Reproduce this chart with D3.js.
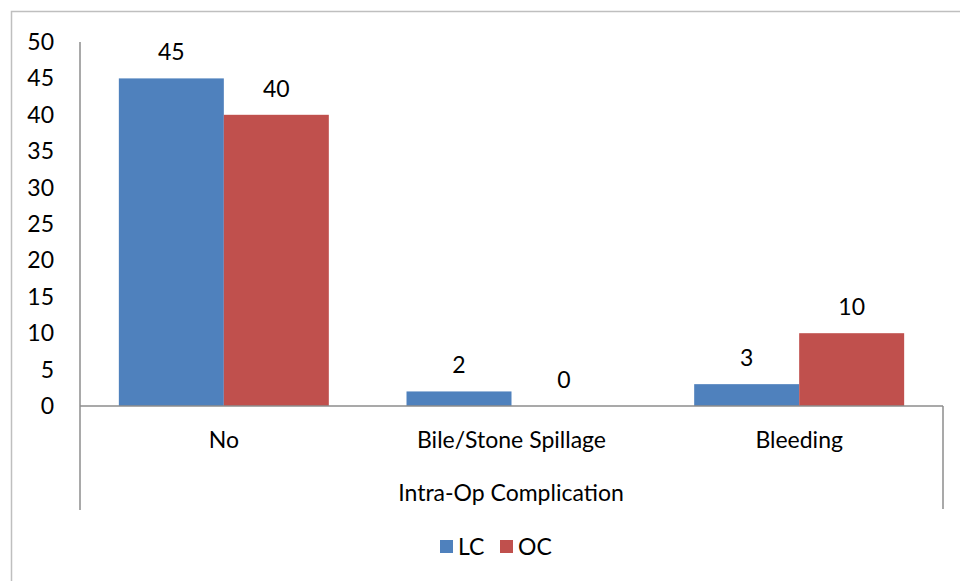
<!DOCTYPE html>
<html><head><meta charset="utf-8">
<script src="https://cdn.jsdelivr.net/npm/d3@7"></script>
<style>body{margin:0;background:#fff}svg{display:block}text{font-family:Lato,"Open Sans",sans-serif;fill:#000}</style>
</head><body><svg id="c" width="960" height="581"></svg>
<script>
const categories = ["No", "Bile/Stone Spillage", "Bleeding"];
const seriesNames = ["LC", "OC"];
const lcValues = [45, 2, 3];
const ocValues = [40, 0, 10];
const yTicks = [0, 5, 10, 15, 20, 25, 30, 35, 40, 45, 50];
const colors = ["#4F81BD", "#C0504D"];
const axisTitle = "Intra-Op Complication";
const FS = 23;

const svg = d3.select("#c");
svg.append("rect").attr("x", 11.5).attr("y", 11.5).attr("width", 1000).attr("height", 1000)
  .attr("fill", "none").attr("stroke", "#bfbfbf").attr("stroke-width", 1.5);

const x0 = d3.scaleBand().domain(categories).range([80, 943]).paddingInner(0).paddingOuter(0);
const x1 = d3.scaleBand().domain(seriesNames).range([0, x0.bandwidth()]).paddingInner(0).paddingOuter(0.37);
const y = d3.scaleLinear().domain([0, 50]).range([406, 42]);

const data = categories.map((c, i) => ({cat: c, vals: [lcValues[i], ocValues[i]]}));

const g = svg.append("g");
data.forEach(d => {
  d.vals.forEach((v, j) => {
    const bx = x0(d.cat) + x1(seriesNames[j]);
    g.append("rect").attr("x", bx).attr("y", y(v)).attr("width", x1.bandwidth())
      .attr("height", y(0) - y(v)).attr("fill", colors[j]);
    g.append("text").attr("x", bx + x1.bandwidth() / 2).attr("y", y(v) - 26).attr("dy", "0.35em")
      .attr("text-anchor", "middle").attr("font-size", FS).text(v);
  });
});

svg.append("line").attr("x1", 80).attr("x2", 80).attr("y1", 42).attr("y2", 510)
  .attr("stroke", "#8c8c8c").attr("stroke-width", 1.5);
svg.selectAll(".yt").data(yTicks).enter().append("text")
  .attr("x", 54).attr("y", d => y(d)).attr("dy", "0.35em").attr("text-anchor", "end")
  .attr("font-size", FS).text(d => d);

svg.append("line").attr("x1", 80).attr("x2", 943).attr("y1", 406).attr("y2", 406)
  .attr("stroke", "#8c8c8c").attr("stroke-width", 1.5);
svg.append("line").attr("x1", 943).attr("x2", 943).attr("y1", 406).attr("y2", 509)
  .attr("stroke", "#8c8c8c").attr("stroke-width", 1.5);
svg.selectAll(".xt").data(categories).enter().append("text")
  .attr("x", d => x0(d) + x0.bandwidth() / 2).attr("y", 440).attr("dy", "0.35em")
  .attr("text-anchor", "middle").attr("font-size", FS).text(d => d);
svg.append("text").attr("x", 511).attr("y", 493).attr("dy", "0.35em")
  .attr("text-anchor", "middle").attr("font-size", FS).text(axisTitle);

const leg = svg.append("g");
const legX = [440, 500];
seriesNames.forEach((s, j) => {
  leg.append("rect").attr("x", legX[j]).attr("y", 540).attr("width", 13).attr("height", 13).attr("fill", colors[j]);
  leg.append("text").attr("x", legX[j] + 18).attr("y", 547).attr("dy", "0.35em").attr("font-size", FS).text(s);
});
</script></body></html>
